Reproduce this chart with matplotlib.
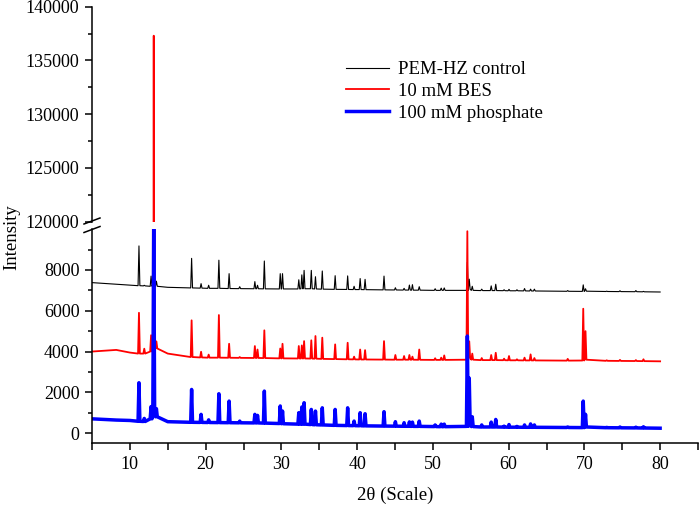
import numpy as np
import matplotlib
matplotlib.use("Agg")
import matplotlib.pyplot as plt
from matplotlib.lines import Line2D

plt.rcParams['font.family'] = ['Liberation Serif', 'DejaVu Serif']

# peak positions (2theta) shared by the three patterns
peak_2theta = [11.2, 11.9, 12.8, 13.15, 13.5, 18.15, 19.4, 20.4, 21.75, 23.1,
               24.5, 26.5, 26.85, 27.75, 29.85, 30.15, 32.3, 32.7, 33.0, 33.95,
               34.5, 35.4, 37.1, 38.75, 39.6, 40.4, 41.05, 43.55, 45.05, 46.2,
               46.9, 47.3, 48.2, 50.3, 51.1, 51.5, 54.55, 54.8, 55.2, 56.45,
               57.7, 58.3, 59.4, 60.05, 61.1, 62.1, 62.9, 63.4, 67.8, 69.85,
               70.15, 72.95, 74.7, 76.8, 77.8]

# baseline anchor points
anchor_2theta = [5, 8.2, 10, 15, 80]
control_anchor = [7380, 7300, 7250, 7150, 6920]
bes_anchor = [4000, 4080, 3950, 3900, 3520]
phos_anchor = [700, 640, 620, 560, 240]

# PEM-HZ control
control_top = [9180, 7250, 7700, 9900, 7450, 8570, 7330, 7250, 8480, 7820,
               7180, 7430, 7250, 8440, 7820, 7820, 7520, 7760, 7980, 7980,
               7670, 7950, 7720, 7710, 7200, 7580, 7540, 7700, 7130, 7100,
               7260, 7280, 7180, 7080, 7110, 7120, 8380, 7550, 7200, 7060,
               7220, 7300, 7030, 7050, 7030, 7090, 7060, 7060, 6990, 7270,
               7080, 6960, 6980, 6990, 6950]
control_base = [7230, 7220, 7200, 7300, 7200, 7120, 7110, 7100, 7100, 7090,
                7085, 7080, 7080, 7075, 7070, 7070, 7070, 7080, 7080, 7080,
                7070, 7060, 7050, 7045, 7040, 7040, 7035, 7025, 7020, 7015,
                7015, 7010, 7010, 7000, 7000, 7000, 7000, 7050, 7000, 6990,
                6990, 6990, 6985, 6980, 6980, 6975, 6970, 6970, 6955, 6950,
                6960, 6945, 6940, 6935, 6930]

# 10 mM BES
bes_top = [5900, 4140, 4800, 137300, 4500, 5530, 3990, 3850, 5790, 4380,
           3730, 4270, 4100, 5040, 4150, 4380, 4270, 4300, 4510, 4550,
           4760, 4680, 4350, 4430, 3750, 4100, 4070, 4510, 3830, 3780,
           3830, 3750, 4100, 3670, 3700, 3810, 9900, 4500, 3900, 3680,
           3830, 3940, 3650, 3780, 3620, 3700, 3860, 3680, 3640, 6100,
           5000, 3570, 3590, 3580, 3620]
bes_base = [3900, 3900, 4000, 4500, 4150, 3730, 3710, 3700, 3700, 3695,
            3690, 3685, 3685, 3680, 3665, 3665, 3660, 3660, 3660, 3655,
            3650, 3640, 3630, 3620, 3615, 3610, 3610, 3605, 3600, 3600,
            3600, 3600, 3595, 3590, 3590, 3590, 3600, 3700, 3600, 3580,
            3580, 3580, 3575, 3570, 3570, 3565, 3565, 3565, 3555, 3560,
            3600, 3545, 3540, 3535, 3530]

# 100 mM phosphate
phos_top = [2470, 720, 1300, 10400, 1200, 2140, 920, 650, 1930, 1570,
            590, 920, 870, 2060, 1330, 1080, 1000, 1280, 1490, 1160,
            1080, 1240, 1160, 1240, 590, 1000, 950, 1050, 560, 510,
            550, 540, 590, 400, 440, 440, 4760, 2700, 800, 400,
            540, 670, 340, 420, 330, 400, 450, 400, 300, 1570,
            920, 280, 300, 290, 310]
phos_base = [580, 570, 700, 1000, 800, 530, 525, 520, 515, 510,
             505, 500, 500, 490, 470, 460, 440, 440, 440, 420,
             410, 400, 380, 370, 365, 360, 355, 345, 340, 335,
             335, 330, 330, 320, 315, 315, 330, 500, 320, 300,
             300, 300, 295, 290, 290, 285, 285, 285, 275, 270,
             300, 265, 260, 255, 250]

labels = ['PEM-HZ control', '10 mM BES', '100 mM phosphate']
colors = ['black', 'red', 'blue']
widths = [0.8, 1.3, 2.5]


def pattern(top, base, anchor, w=0.12):
    p = np.array(peak_2theta)
    xs = np.concatenate([anchor_2theta, p - w, p, p + w])
    ys = np.concatenate([anchor, base, top, base])
    order = np.argsort(xs, kind='stable')
    return xs[order], ys[order]


series = [pattern(control_top, control_base, control_anchor),
          pattern(bes_top, bes_base, bes_anchor),
          pattern(phos_top, phos_base, phos_anchor)]

fig = plt.figure(figsize=(7, 5.07), dpi=100)
ax_lo = fig.add_axes([92 / 700, (507 - 443.3) / 507, 606 / 700, 214.1 / 507])
ax_hi = fig.add_axes([92 / 700, (507 - 221.7) / 507, 606 / 700, 215 / 507])

for ax in (ax_lo, ax_hi):
    for (x, y), c, lw, lab in zip(series, colors, widths, labels):
        ax.plot(x, y, color=c, lw=lw, label=lab)
    ax.set_xlim(5, 85)
    ax.spines['top'].set_visible(False)
    ax.spines['right'].set_visible(False)
    ax.spines['left'].set_linewidth(1.1)
    ax.spines['bottom'].set_linewidth(1.1)
    ax.tick_params(axis='both', which='major', direction='out', length=5,
                   width=1.1, labelsize=13, pad=4)
    ax.tick_params(axis='y', which='minor', direction='out', length=3, width=1.1)

ax_lo.set_ylim(-500, 10000)
ax_lo.set_yticks([0, 2000, 4000, 6000, 8000])
ax_lo.set_yticks([1000, 3000, 5000, 7000, 9000], minor=True)
ax_lo.set_xticks(range(5, 90, 5))
ax_lo.set_xticklabels(['' if (v % 10 or v in (5, 85)) else str(v) for v in range(5, 90, 5)])

ax_hi.set_ylim(120000, 140000)
ax_hi.set_yticks([120000, 125000, 130000, 135000, 140000])
ax_hi.set_yticks([122500, 127500, 132500, 137500], minor=True)
ax_hi.spines['bottom'].set_visible(False)
ax_hi.tick_params(axis='x', which='both', bottom=False, labelbottom=False)
ax_hi.patch.set_visible(False)

# axis break marks
for yc in (221.0, 229.5):
    fig.add_artist(Line2D([84 / 700, 100 / 700],
                          [1 - (yc + 3) / 507, 1 - (yc - 3) / 507],
                          color='black', lw=1.1))

fig.text(12 / 700, 1 - 237 / 507, 'Intensity', rotation=90,
         ha='center', va='center', fontsize=13.5)
fig.text(395 / 700, 1 - 495 / 507, '2θ (Scale)', ha='center', va='center',
         fontsize=13.5)

handles = [Line2D([], [], color=c, lw=lw) for c, lw in zip(colors, widths)]
fig.legend(handles, labels, loc='upper left',
           bbox_to_anchor=(346 / 700, 1 - 61 / 507), frameon=False,
           fontsize=13.5, borderpad=0, borderaxespad=0, handlelength=2.3,
           handletextpad=0.45, labelspacing=0.25)

fig.savefig('out.png', dpi=100)
